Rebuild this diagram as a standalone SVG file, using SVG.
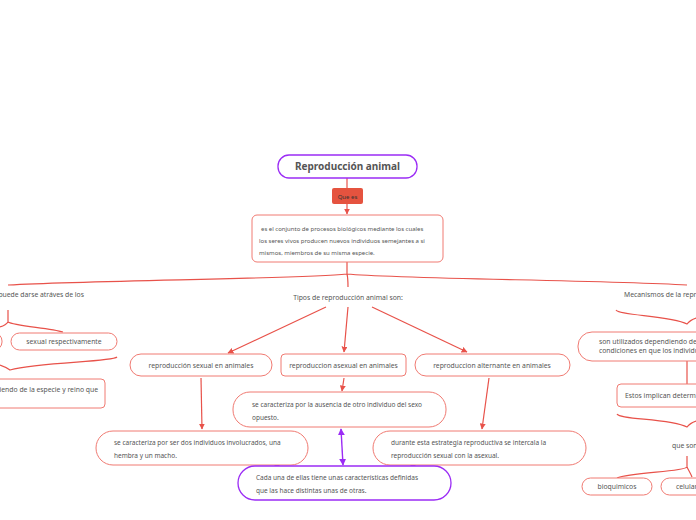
<svg xmlns="http://www.w3.org/2000/svg" width="696" height="520" viewBox="0 0 696 520">
<defs>
<marker id="ar" viewBox="0 0 10 10" refX="9" refY="5" markerWidth="5" markerHeight="5" orient="auto-start-reverse"><path d="M0,0 L10,5 L0,10 z" fill="#e8524a"/></marker>
<marker id="ap" viewBox="0 0 10 10" refX="9" refY="5" markerWidth="5" markerHeight="5" orient="auto-start-reverse"><path d="M0,0 L10,5 L0,10 z" fill="#9b2cf5"/></marker>
</defs>
<style>
text{font-family:"Noto Sans","DejaVu Sans",sans-serif;fill:#555}
.box{fill:#fff;stroke:#f07a72;stroke-width:1}
.pbox{fill:#fff;stroke:#9b2cf5;stroke-width:1.3}
.c{fill:none;stroke:#e8524a;stroke-width:1.2}
.cp{fill:none;stroke:#9b2cf5;stroke-width:1.4}
.s{font-size:6px}
.d{font-size:6.5px}
.m{font-size:6.8px}
.t{font-size:10px;font-weight:bold;fill:#555}
</style>
<rect width="696" height="520" fill="#fff"/>
<g id="connectors">
<line class="c" x1="347" y1="178" x2="347" y2="188"/>
<line class="c" x1="347" y1="204" x2="347" y2="214" marker-end="url(#ar)"/>
<path class="c" d="M347,262 L347,274 M347,274 C300,279 100,280 8,285 M347,274 C400,279 600,280 687,285 M347,274 C348,278 348,282 348,287"/>
<line class="c" x1="326" y1="307" x2="228" y2="353" marker-end="url(#ar)"/>
<line class="c" x1="348" y1="307" x2="344" y2="352" marker-end="url(#ar)"/>
<line class="c" x1="372" y1="307" x2="467" y2="352" marker-end="url(#ar)"/>
<line class="c" x1="201" y1="378" x2="202" y2="429" marker-end="url(#ar)"/>
<line class="c" x1="344" y1="378" x2="342" y2="391" marker-end="url(#ar)"/>
<line class="c" x1="489" y1="378" x2="482" y2="429" marker-end="url(#ar)"/>
<line class="cp" x1="341" y1="429" x2="343" y2="465" marker-start="url(#ap)" marker-end="url(#ap)"/>
<path d="M274,466 L280,466 L277,463 z" fill="#9b2cf5"/>
<path d="M410,466 L416,466 L413,463 z" fill="#9b2cf5"/>
<path class="c" d="M8,310 L8,322 M8,322 C6,325 3,326 0,327 M8,322 C14,326 50,328 63,332"/>
<path class="c" d="M117,357 C112,362 40,362 10,370 C6,367 3,366 0,365"/>
<path class="c" d="M616,310 C620,316 670,315 687,324 C690,320 693,319 696,318"/>
<line class="c" x1="687" y1="361" x2="687" y2="384"/>
<path class="c" d="M617,414 C620,420 670,418 687,427 C690,423 693,422 696,421"/>
<path class="c" d="M687,456 L687,467 M687,467 C684,472 630,472 617,478 M687,467 C689,471 691,474 692,477"/>
</g>
<g id="title"><rect x="278" y="155" width="139" height="23" rx="11" class="pbox"/><text x="347.5" y="170" text-anchor="middle" class="t">Reproducción animal</text></g>
<g id="quees"><rect x="332" y="188" width="31" height="16" rx="2" fill="#e5533f"/><text x="347.5" y="198.5" text-anchor="middle" style="font-size:6px;fill:#333">Que es</text></g>
<g id="definicion"><rect x="252" y="215" width="191" height="47" rx="5" class="box"/>
<text class="s" x="261" y="231">es el conjunto de procesos biológicos mediante los cuales</text>
<text class="s" x="259" y="243">los seres vivos producen nuevos individuos semejantes a si</text>
<text class="s" x="259" y="255">mismos, miembros de su misma especie.</text></g>
<g id="puede"><text class="m" x="84" y="297" text-anchor="end">puede darse atráves de los</text></g>
<g id="tipos"><text class="m" x="348" y="300" text-anchor="middle">Tipos de reproducción animal son:</text></g>
<g id="mecanismos"><text class="m" x="624" y="297">Mecanismos de la reproducción animal</text></g>
<g id="partial-left"><rect x="-60" y="333" width="62" height="17" rx="8" class="box"/></g>
<g id="sexualresp"><rect x="11" y="333" width="106" height="17" rx="8.5" class="box"/><text class="m" x="64" y="344" text-anchor="middle">sexual respectivamente</text></g>
<g id="especie"><rect x="-20" y="379" width="125" height="29" rx="4" class="box"/><text class="m" x="98" y="392" text-anchor="end">dependiendo de la especie y reino que</text></g>
<g id="sexual"><rect x="130" y="354" width="142" height="22" rx="11" class="box"/><text class="m" x="201" y="367.5" text-anchor="middle">reproducción sexual en animales</text></g>
<g id="asexual"><rect x="281" y="354" width="125" height="22" rx="4" class="box"/><text class="m" x="343.5" y="367.5" text-anchor="middle">reproduccion asexual en animales</text></g>
<g id="alternante"><rect x="415" y="354" width="155" height="22" rx="11" class="box"/><text class="m" x="492" y="367.5" text-anchor="middle">reproduccion alternante en animales</text></g>
<g id="def-asexual"><rect x="233" y="392" width="213" height="35" rx="17" class="box"/>
<text class="d" x="252" y="407">se caracteriza por la ausencia de otro individuo del sexo</text>
<text class="d" x="252" y="420">opuesto.</text></g>
<g id="def-sexual"><rect x="96" y="431" width="212" height="34" rx="17" class="box"/>
<text class="d" x="114" y="445">se caracteriza por ser dos individuos involucrados, una</text>
<text class="d" x="114" y="458">hembra y un macho.</text></g>
<g id="def-alternante"><rect x="373" y="431" width="213" height="34" rx="17" class="box"/>
<text class="d" x="391" y="445">durante esta estrategia reproductiva se intercala la</text>
<text class="d" x="391" y="458">reproducción sexual con la asexual.</text></g>
<g id="cada"><rect x="238" y="466" width="213" height="34" rx="17" class="pbox"/>
<text class="d" x="256" y="480">Cada una de ellas tiene unas características definidas</text>
<text class="d" x="256" y="493">que las hace distintas unas de otras.</text></g>
<g id="utilizados"><rect x="578" y="332" width="140" height="29" rx="14" class="box"/>
<text class="m" x="599" y="344">son utilizados dependiendo de las</text>
<text class="m" x="599" y="353">condiciones en que los individuos</text></g>
<g id="estos"><rect x="617" y="384" width="100" height="23" rx="4" class="box"/><text class="m" x="625" y="398">Estos implican determinados</text></g>
<g id="queson"><text class="m" x="672" y="448">que son</text></g>
<g id="bioquimicos"><rect x="582" y="478" width="70" height="17" rx="8.5" class="box"/><text class="m" x="617" y="489" text-anchor="middle">bioquimicos</text></g>
<g id="celulares"><rect x="661" y="478" width="70" height="17" rx="8.5" class="box"/><text class="m" x="676" y="489">celulares</text></g>
</svg>
